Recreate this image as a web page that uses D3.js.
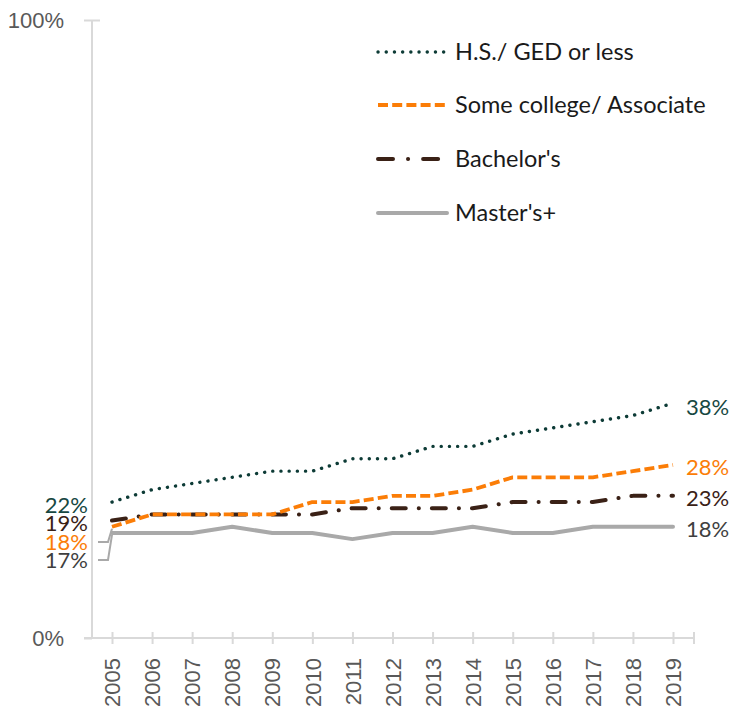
<!DOCTYPE html>
<html>
<head>
<meta charset="utf-8">
<script src="https://cdn.jsdelivr.net/npm/d3@7"></script>
<style>
  body { margin: 0; background: #fff; }
  svg { display: block; }
</style>
</head>
<body>
<div id="chart"></div>
<script>
// data
let years = ["2005", "2006", "2007", "2008", "2009", "2010", "2011", "2012",
  "2013", "2014", "2015", "2016", "2017", "2018", "2019"];
let hsGed = [22, 24, 25, 26, 27, 27, 29, 29, 31, 31, 33, 34, 35, 36, 38];
let someCollege = [18, 20, 20, 20, 20, 22, 22, 23, 23, 24, 26, 26, 26, 27, 28];
let bachelors = [19, 20, 20, 20, 20, 20, 21, 21, 21, 21, 22, 22, 22, 23, 23];
let masters = [17, 17, 17, 18, 17, 17, 16, 17, 17, 18, 17, 17, 18, 18, 18];
let seriesNames = ["H.S./ GED or less", "Some college/ Associate", "Bachelor's", "Master's+"];
let yTicks = [0, 100];

let width = 732;
let height = 709;
let padding = { top: 20, right: 59, bottom: 71, left: 92 };

let series = [
  { name: seriesNames[0], values: hsGed, color: "#0d3b36", label: "#174842",
    dash: "0.1 8.1", width: 3.4, cap: "round" },
  { name: seriesNames[1], values: someCollege, color: "#fb7d07", label: "#fb7d07",
    dash: "10 4.2", width: 3.8, cap: "butt" },
  { name: seriesNames[2], values: bachelors, color: "#3a2116", label: "#3a2116",
    dash: "14 13 0.1 13", width: 4, cap: "round" },
  { name: seriesNames[3], values: masters, color: "#a9a9a9", label: "#3f3f3f",
    dash: null, width: 4, cap: "round" }
];

// scales
let xScale = d3.scalePoint().domain(years).range([112, 673]);
let yScale = d3.scaleLinear().domain([0, 100]).range([height - padding.bottom, padding.top]);

let svg = d3.select("#chart").append("svg")
  .attr("width", width)
  .attr("height", height);

// y axis
let yAxis = d3.axisLeft(yScale)
  .tickValues(yTicks)
  .tickFormat(d => d + "%")
  .tickSize(8)
  .tickPadding(20);
let yG = svg.append("g")
  .attr("transform", `translate(${padding.left}, 0)`)
  .call(yAxis);
yG.select(".domain").attr("stroke", "#d9d9d9").attr("stroke-width", 2)
  .attr("d", `M0,${yScale(100)}V${yScale(0)}`);
yG.selectAll(".tick line").attr("stroke", "#d9d9d9").attr("stroke-width", 2)
  .attr("x1", -8).attr("x2", 8);
yG.select(".tick line").attr("x2", 0);
yG.selectAll(".tick text")
  .attr("fill", "#595959")
  .style("font-family", "'Liberation Sans', Arial, sans-serif")
  .style("font-size", "22px");

// x axis
let xAxis = d3.axisBottom(xScale).tickSize(0).tickPadding(0);
let xG = svg.append("g")
  .attr("transform", `translate(0, ${yScale(0)})`)
  .call(xAxis);
xG.select(".domain").attr("stroke", "#d9d9d9").attr("stroke-width", 2)
  .attr("d", `M84,0H694`);
xG.selectAll(".tick line").attr("stroke", "#d9d9d9").attr("stroke-width", 2)
  .attr("y1", -6).attr("y2", 6);
xG.append("line")
  .attr("x1", 694).attr("x2", 694).attr("y1", -6).attr("y2", 6)
  .attr("stroke", "#d9d9d9").attr("stroke-width", 2);
xG.selectAll(".tick text")
  .attr("fill", "#595959")
  .style("font-family", "'Liberation Sans', Arial, sans-serif")
  .style("font-size", "22px")
  .attr("text-anchor", "end")
  .attr("dy", "0.35em")
  .attr("transform", "translate(0, 20) rotate(-90)")
  .attr("y", 0)
  .attr("x", 0);

// lines
let line = d3.line()
  .x((d, i) => xScale(years[i]))
  .y(d => yScale(d));

// draw grey first so others sit on top
let drawOrder = [3, 2, 1, 0];
drawOrder.forEach(k => {
  let s = series[k];
  svg.append("path")
    .datum(s.values)
    .attr("d", line)
    .attr("fill", "none")
    .attr("stroke", s.color)
    .attr("stroke-width", s.width)
    .attr("stroke-linecap", s.cap)
    .attr("stroke-linejoin", "round")
    .attr("stroke-dasharray", s.dash);
});

// start labels
let labelFont = "Lato, 'Open Sans', sans-serif";
let startLabelY = [505, 523, 542, 560];
let startOrder = [0, 2, 1, 3];
startOrder.forEach((k, j) => {
  let s = series[k];
  svg.append("text")
    .attr("x", 88)
    .attr("y", startLabelY[j])
    .attr("dy", "0.35em")
    .attr("text-anchor", "end")
    .attr("fill", s.label)
    .style("font-family", labelFont)
    .style("font-size", "22px")
    .text(s.values[0] + "%");
});
// leader lines for the two lowest start labels
[[1, 542], [3, 560]].forEach(([k, ly]) => {
  let s = series[k];
  svg.append("polyline")
    .attr("points", `98,${ly} 108,${ly} 112,${yScale(s.values[0]) + 2}`)
    .attr("fill", "none")
    .attr("stroke", "#a9a9a9")
    .attr("stroke-width", 2);
});

// end labels
let endLabelY = [407, 467, 498, 529];
series.forEach((s, k) => {
  svg.append("text")
    .attr("x", 686)
    .attr("y", endLabelY[k])
    .attr("dy", "0.35em")
    .attr("fill", s.label)
    .style("font-family", labelFont)
    .style("font-size", "22px")
    .text(s.values[s.values.length - 1] + "%");
});

// legend
let legendY = [52, 105, 159, 213];
series.forEach((s, k) => {
  let g = svg.append("g").attr("transform", `translate(377, ${legendY[k]})`);
  g.append("line")
    .attr("x1", 1).attr("x2", 70)
    .attr("stroke", s.color)
    .attr("stroke-width", s.width)
    .attr("stroke-linecap", s.cap)
    .attr("stroke-dasharray", k === 2 ? "15 15 0.1 15" : s.dash);
  g.append("text")
    .attr("x", 78)
    .attr("dy", "0.35em")
    .attr("fill", "#1a1a1a")
    .style("font-family", labelFont)
    .style("font-size", "23.5px")
    .text(s.name);
});
</script>
</body>
</html>
